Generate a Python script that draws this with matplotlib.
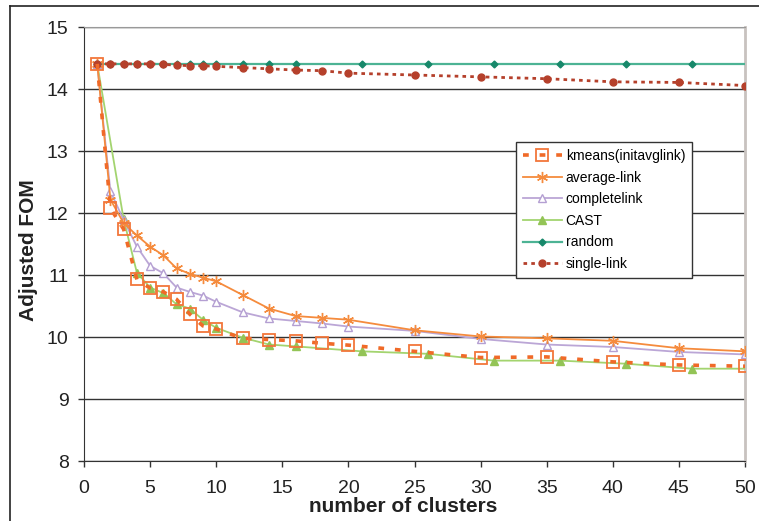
import numpy as np
import matplotlib
matplotlib.use("Agg")
import matplotlib.pyplot as plt
from matplotlib.lines import Line2D

# data
x_main = [1, 2, 3, 4, 5, 6, 7, 8, 9, 10, 12, 14, 16, 18, 20, 25, 30, 35, 40, 45, 50]
kmeans = [14.41, 12.08, 11.74, 10.93, 10.79, 10.73, 10.61, 10.37, 10.18, 10.13,
          9.98, 9.96, 9.94, 9.90, 9.87, 9.77, 9.67, 9.68, 9.60, 9.55, 9.53]
average_link = [14.41, 12.22, 11.84, 11.64, 11.46, 11.32, 11.11, 11.02, 10.96, 10.90,
                10.68, 10.46, 10.34, 10.31, 10.28, 10.11, 10.01, 9.98, 9.94, 9.82, 9.77]
complete_link = [14.41, 12.35, 11.89, 11.46, 11.15, 11.03, 10.80, 10.73, 10.67, 10.57,
                 10.40, 10.30, 10.26, 10.22, 10.17, 10.10, 9.97, 9.88, 9.84, 9.76, 9.72]
single_link = [14.41, 14.41, 14.41, 14.41, 14.41, 14.40, 14.39, 14.38, 14.38, 14.37,
               14.35, 14.33, 14.31, 14.30, 14.26, 14.23, 14.20, 14.17, 14.12, 14.11, 14.06]

x_cast = [1, 3, 4, 5, 6, 7, 8, 9, 10, 12, 14, 16, 21, 26, 31, 36, 41, 46, 51]
cast = [14.41, 11.90, 11.04, 10.80, 10.71, 10.53, 10.46, 10.28, 10.15, 9.99,
        9.88, 9.85, 9.77, 9.73, 9.62, 9.62, 9.57, 9.49, 9.49]

x_random = [1, 2, 3, 4, 5, 6, 7, 8, 9, 10, 12, 14, 16, 21, 26, 31, 36, 41, 46, 51]
random_fom = [14.41] * len(x_random)

labels = ["kmeans(initavglink)", "average-link", "completelink", "CAST", "random", "single-link"]

plt.rcParams['font.family'] = ['Liberation Sans', 'DejaVu Sans']

fig = plt.figure(figsize=(7.59, 5.21), dpi=100)
ax = fig.add_axes([84 / 759, 1 - 461 / 521, (745 - 84) / 759, (461 - 27.3) / 521])

ax.grid(axis='y', color='#333333', lw=1.0, zorder=0)
ax.set_axisbelow(True)

ax.plot(x_random, random_fom, color='#4cb394', lw=1.6, marker='D', ms=3.5,
        mfc='#17886a', mec='#17886a', zorder=3)
ax.plot(x_main, single_link, color='#b5402b', lw=2.0, dashes=(1.3, 1.5),
        marker='o', ms=5, mfc='#b5402b', mec='#b5402b', zorder=4)
ax.plot(x_cast, cast, color='#a3d46f', lw=1.3, marker='^', ms=6,
        mfc='#93c456', mec='#93c456', zorder=3)
ax.plot(x_main, complete_link, color='#bba6d6', lw=1.3, marker='^', ms=6,
        mfc='white', mec='#b49fd2', mew=1.0, zorder=3)
ax.plot(x_main, average_link, color='#f58b3d', lw=1.3, marker=(6, 2, 0), ms=8,
        mec='#f58b3d', mew=1.0, zorder=3)
ax.plot(x_main, kmeans, color='#f06a28', lw=2.6, dashes=(1.6, 3.0), marker='s', ms=8,
        mfc='none', mec='#f2763a', mew=1.3, zorder=5)

ax.set_xlim(0, 50)
ax.set_ylim(8, 15)
ax.set_xticks(np.arange(0, 51, 5))
ax.set_yticks(np.arange(8, 16, 1))
ax.tick_params(axis='both', direction='out', length=4.5, width=1, color='#333333',
               labelsize=14, labelcolor='#222222')
ax.tick_params(axis='y', pad=6.5)
ax.tick_params(axis='x', pad=9)

ax.spines['left'].set_color('#333333')
ax.spines['bottom'].set_color('#333333')
ax.spines['top'].set_color('#999999')
ax.spines['right'].set_color('#c8c2bf')
ax.spines['right'].set_linewidth(2)

handles = [
    Line2D([], [], color='#f06a28', lw=2.6, dashes=(1.6, 3.0), marker='s', ms=8,
           mfc='none', mec='#f2763a', mew=1.3),
    Line2D([], [], color='#f58b3d', lw=1.3, marker=(6, 2, 0), ms=8, mec='#f58b3d'),
    Line2D([], [], color='#bba6d6', lw=1.3, marker='^', ms=6, mfc='white', mec='#b49fd2'),
    Line2D([], [], color='#a3d46f', lw=1.3, marker='^', ms=6, mfc='#93c456', mec='#93c456'),
    Line2D([], [], color='#4cb394', lw=1.6, marker='D', ms=3.5, mfc='#17886a', mec='#17886a'),
    Line2D([], [], color='#b5402b', lw=2.0, dashes=(1.3, 1.5), marker='o', ms=5,
           mfc='#b5402b', mec='#b5402b'),
]
leg = ax.legend(handles, labels, loc='upper left', bbox_to_anchor=(515.7 / 759, 1 - 142 / 521),
                bbox_transform=fig.transFigure, borderaxespad=0, fontsize=10,
                handlelength=2.8, handletextpad=0.3, labelspacing=0.55,
                fancybox=False, framealpha=1, edgecolor='#333333', borderpad=0.5)
leg.get_frame().set_linewidth(1.0)

fig.text(403 / 759, 1 - 507 / 521, "number of clusters", ha='center', va='center',
         fontsize=15, fontweight='bold', color='#222222')
fig.text(28 / 759, 1 - 250 / 521, "Adjusted FOM", ha='center', va='center', rotation=90,
         fontsize=15, fontweight='bold', color='#222222')

# outer chart frame (left and top edges visible)
fig.add_artist(Line2D([9.5 / 759, 9.5 / 759], [0, 1 - 5.5 / 521], color='#222222', lw=1.2))
fig.add_artist(Line2D([9.5 / 759, 1], [1 - 5.5 / 521, 1 - 5.5 / 521], color='#222222', lw=1.2))

fig.savefig("out.png", dpi=100)
